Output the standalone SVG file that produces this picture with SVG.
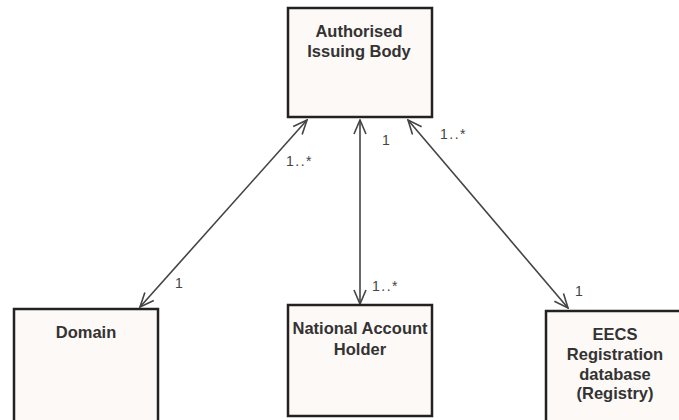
<svg xmlns="http://www.w3.org/2000/svg" width="679" height="420" viewBox="0 0 679 420">
<style>
.box{fill:#fdf9f6;stroke:#222;stroke-width:2.5}
.lbl{font-family:"Liberation Sans",Arial,sans-serif;font-weight:bold;font-size:16.5px;fill:#333;text-anchor:middle}
.mult{font-family:"Liberation Sans",Arial,sans-serif;font-size:14px;fill:#444;letter-spacing:1.5px}
.conn{stroke:#444;stroke-width:1.6;fill:none;marker-start:url(#open);marker-end:url(#open)}
</style>
<defs>
<marker id="open" viewBox="0 0 16 14" refX="15" refY="7" markerWidth="16" markerHeight="14" markerUnits="userSpaceOnUse" orient="auto-start-reverse">
<path d="M1,1 L15,7 L1,13" fill="none" stroke="#444" stroke-width="1.6"/>
</marker>
</defs>
<g id="connectors">
<line class="conn" x1="307" y1="120" x2="140" y2="307"/>
<line class="conn" x1="360" y1="120" x2="360" y2="304"/>
<line class="conn" x1="408" y1="120" x2="568" y2="308"/>
<text class="mult" x="286" y="166">1..*</text>
<text class="mult" x="175" y="288">1</text>
<text class="mult" x="382" y="145">1</text>
<text class="mult" x="372" y="291">1..*</text>
<text class="mult" x="440" y="139">1..*</text>
<text class="mult" x="575" y="296">1</text>
</g>
<g id="authorised-issuing-body">
<rect class="box" x="288" y="8" width="144" height="109"/>
<text class="lbl" x="359" y="37">Authorised</text>
<text class="lbl" x="359" y="57">Issuing Body</text>
</g>
<g id="domain">
<rect class="box" x="14" y="309" width="144" height="120"/>
<text class="lbl" x="86" y="338">Domain</text>
</g>
<g id="national-account-holder">
<rect class="box" x="288" y="305" width="144" height="111"/>
<text class="lbl" x="360" y="334">National Account</text>
<text class="lbl" x="360" y="355">Holder</text>
</g>
<g id="eecs-registration-database">
<rect class="box" x="546" y="311" width="150" height="120"/>
<text class="lbl" x="615" y="340">EECS</text>
<text class="lbl" x="615" y="360">Registration</text>
<text class="lbl" x="615" y="380">database</text>
<text class="lbl" x="615" y="399">(Registry)</text>
</g>
</svg>
